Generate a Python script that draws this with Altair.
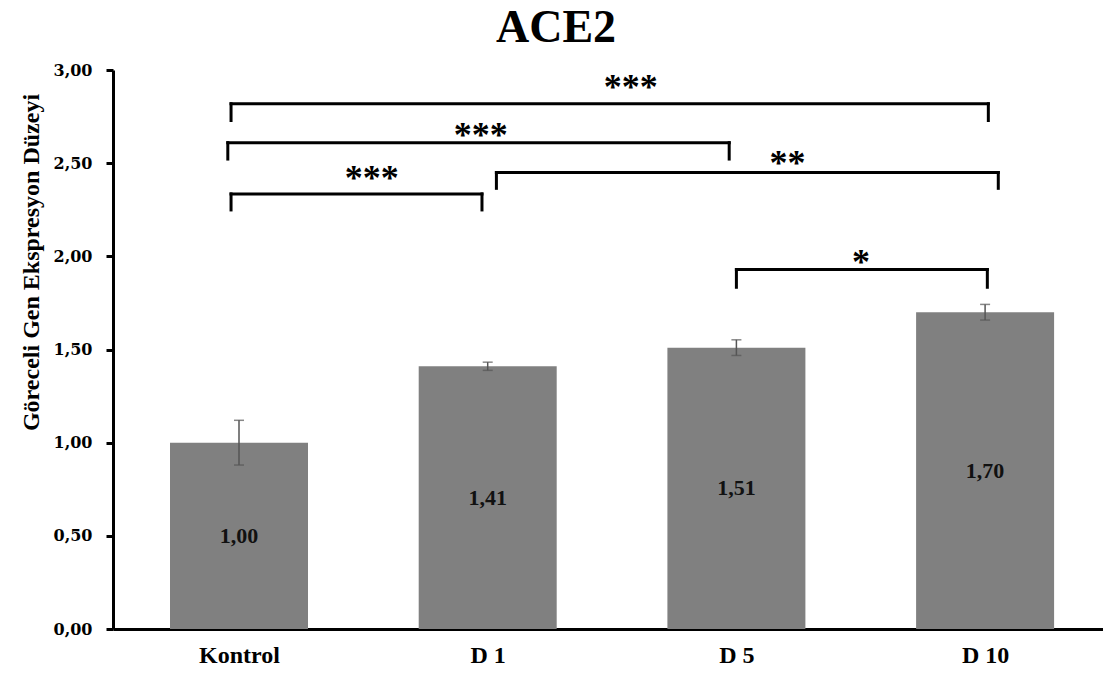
import altair as alt
import pandas as pd

# ---- data ----
categories = ["Kontrol", "D 1", "D 5", "D 10"]
means = [1.00, 1.41, 1.51, 1.70]
errors = [0.12, 0.022, 0.042, 0.042]

# significance brackets (x in category-index units, y in data units)
br_x1 = [-0.032, -0.045, -0.032, 1.035, 2.0]
br_x2 = [0.977, 1.971, 3.013, 3.053, 3.009]
br_top = [2.335, 2.610, 2.819, 2.450, 1.929]
br_bottom = [2.249, 2.522, 2.729, 2.365, 1.834]
star_text = ["***", "***", "***", "**", "*"]
star_x = [0.534, 0.972, 1.575, 2.205, 2.501]
star_y = [2.446, 2.678, 2.937, 2.526, 1.998]

# ---- layout ----
W, H = 990, 559
STEP_PX = 248.7      # distance between category centres
FIRST_PX = 126.0     # first category centre from left of plot
BAR_PX = 138
xdomain = [-FIRST_PX / STEP_PX, (W - FIRST_PX) / STEP_PX]

bars = pd.DataFrame({
    "idx": list(range(len(categories))),
    "cat": categories,
    "mean": means,
    "lo": [m - e for m, e in zip(means, errors)],
    "hi": [m + e for m, e in zip(means, errors)],
    "label": [f"{m:.2f}".replace(".", ",") for m in means],
    "mid": [m / 2 for m in means],
})

segs = []
for a, b, t, bt in zip(br_x1, br_x2, br_top, br_bottom):
    segs.append({"x": a, "x2": b, "y": t, "y2": t})
    segs.append({"x": a, "x2": a, "y": t, "y2": bt})
    segs.append({"x": b, "x2": b, "y": t, "y2": bt})
segs = pd.DataFrame(segs)
stars = pd.DataFrame({"x": star_x, "y": star_y, "t": star_text})

cat_js = "[" + ",".join(f"'{c}'" for c in categories) + "]"
xscale = alt.Scale(domain=xdomain, nice=False, zero=False, padding=0)
xaxis = alt.Axis(values=list(range(len(categories))), labelExpr=f"{cat_js}[datum.value]",
                 grid=False, ticks=False, domainWidth=3, domainColor="black",
                 labelFont="Liberation Serif", labelFontWeight="bold",
                 labelFontSize=24, labelColor="black", labelPadding=14, labelFlush=False)
yscale = alt.Scale(domain=[0, 3], nice=False, padding=0)
yaxis = alt.Axis(values=[0, 0.5, 1, 1.5, 2, 2.5, 3], grid=False,
                 labelExpr="replace(format(datum.value, '.2f'), '.', ',')",
                 domainWidth=3, domainColor="black", tickWidth=3, tickSize=7,
                 tickColor="black", labelFont="DejaVu Serif", labelFontWeight="bold",
                 labelFontSize=16, labelColor="black", labelPadding=14,
                 titleFont="Liberation Serif", titleFontWeight="bold",
                 titleFontSize=24, titleColor="black",
                 titleX=-70, titleY=192, titleAngle=270,
                 titleAlign="center", titleBaseline="bottom")

bar = alt.Chart(bars).mark_bar(color="#808080", size=BAR_PX).encode(
    x=alt.X("idx:Q", scale=xscale, axis=xaxis, title=None),
    y=alt.Y("mean:Q", scale=yscale, axis=yaxis, title="Göreceli Gen Ekspresyon Düzeyi"))
err = alt.Chart(bars).mark_rule(color="#555555", strokeWidth=1.5).encode(
    x="idx:Q", y="lo:Q", y2="hi:Q")
cap_lo = alt.Chart(bars).mark_tick(color="#555555", thickness=1.5, size=10, orient="horizontal").encode(
    x="idx:Q", y="lo:Q")
cap_hi = alt.Chart(bars).mark_tick(color="#555555", thickness=1.5, size=10, orient="horizontal").encode(
    x="idx:Q", y="hi:Q")
lbl = alt.Chart(bars).mark_text(font="Liberation Serif", fontWeight="bold", fontSize=22,
                                color="#111111", baseline="middle").encode(
    x="idx:Q", y="mid:Q", text="label:N")

brk = alt.Chart(segs).mark_rule(color="black", strokeWidth=3, strokeCap="square").encode(
    x="x:Q", x2="x2:Q", y="y:Q", y2="y2:Q")
st = alt.Chart(stars).mark_text(font="Liberation Serif", fontWeight="bold", fontSize=36,
                                color="black", baseline="middle", dy=6).encode(
    x="x:Q", y="y:Q", text="t:N")

chart = alt.layer(bar, err, cap_lo, cap_hi, lbl, brk, st).properties(
    width=W, height=H,
    autosize=alt.AutoSizeParams(type="none"),
    padding={"left": 113, "top": 70, "right": 0, "bottom": 44},
    title=alt.TitleParams("ACE2", font="Liberation Serif", fontSize=46, fontWeight="bold",
                          color="black", anchor="middle", dx=-52, offset=10),
).configure(background="white").configure_view(stroke="transparent", strokeWidth=0).configure_axis(grid=False)

chart.save("out.html", embed_options={"renderer": "svg", "actions": False})
